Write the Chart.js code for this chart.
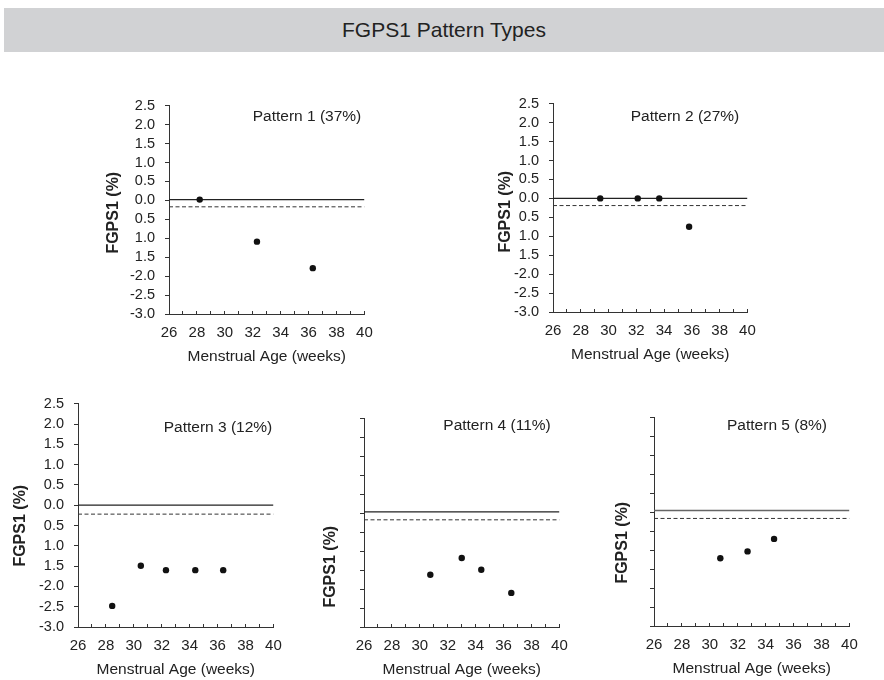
<!DOCTYPE html>
<html>
<head>
<meta charset="utf-8">
<script src="https://cdn.jsdelivr.net/npm/chart.js@4.4.1/dist/chart.umd.min.js"></script>
<style>
  body { margin: 0; background: #fff; width: 884px; height: 680px; position: relative; overflow: hidden; }
  .title-bar { position: absolute; left: 4px; top: 8px; width: 880px; height: 44px; background: #d1d2d4;
    font: 21px "Liberation Sans", Arial, sans-serif; color: #222; text-align: center; line-height: 44px; }
  canvas { position: absolute; }
</style>
</head>
<body>
<div class="title-bar">FGPS1 Pattern Types</div>
<canvas id="p1"></canvas>
<canvas id="p2"></canvas>
<canvas id="p3"></canvas>
<canvas id="p4"></canvas>
<canvas id="p5"></canvas>
<script>
// values
const patternLabels = ['Pattern 1 (37%)', 'Pattern 2 (27%)', 'Pattern 3 (12%)', 'Pattern 4 (11%)', 'Pattern 5 (8%)'];
const weeks1 = [28.2, 32.3, 36.3];
const fgps1 = [0.02, -1.09, -1.79];
const weeks2 = [29.4, 32.1, 33.65, 35.8];
const fgps2 = [0, 0, 0, -0.75];
const weeks3 = [28.45, 30.5, 32.3, 34.4, 36.4];
const fgps3 = [-2.48, -1.49, -1.6, -1.6, -1.6];
const weeks4 = [30.75, 33.0, 34.4, 36.55];
const fgps4 = [-1.62, -1.18, -1.49, -2.1];
const weeks5 = [30.75, 32.7, 34.6];
const fgps5 = [-1.21, -1.03, -0.7];
const solidRef = [0.02, 0, 0, 0.04, 0.05];
const dashedRef = [-0.17, -0.19, -0.22, -0.17, -0.16];
const xTickLabels = ['26', '28', '30', '32', '34', '36', '38', '40'];
// the original figure prints the negative labels without a minus sign down to 1.5
const yTickValues = [2.5, 2, 1.5, 1, 0.5, 0, -0.5, -1, -1.5, -2, -2.5, -3];
const yTickLabels = ['2.5', '2.0', '1.5', '1.0', '0.5', '0.0', '0.5', '1.0', '1.5', '-2.0', '-2.5', '-3.0'];

const allWeeks = [weeks1, weeks2, weeks3, weeks4, weeks5];
const allFgps = [fgps1, fgps2, fgps3, fgps4, fgps5];

// layout: plot area on the page, and text offsets relative to it
const panels = [
  { id: 'p1', left: 169, top: 99, right: 370, bottom: 314, yLabels: true, lab: [138, 11], yt: [-55, 107] },
  { id: 'p2', left: 553, top: 97, right: 753, bottom: 312, yLabels: true, lab: [132, 13], yt: [-47, 108] },
  { id: 'p3', left: 78, top: 397, right: 279, bottom: 627, yLabels: true, lab: [140, 24], yt: [-57, 122] },
  { id: 'p4', left: 364, top: 412, right: 565, bottom: 627, yLabels: false, lab: [133, 7], yt: [-33, 148] },
  { id: 'p5', left: 654, top: 411, right: 855, bottom: 626, yLabels: false, lab: [123, 8], yt: [-31, 125] }
];
const L = 78, T = 12, R = 16, B = 60;
const ink = '#222';
const family = '"Liberation Sans", Arial, sans-serif';

Chart.defaults.font.family = family;
Chart.defaults.color = ink;

const panelText = {
  id: 'panelText',
  afterDraw(chart, args, opts) {
    const { ctx, chartArea } = chart;
    ctx.save();
    ctx.fillStyle = ink;
    ctx.textAlign = 'center';
    ctx.textBaseline = 'middle';
    ctx.font = '15.5px ' + family;
    ctx.fillText(opts.label, chartArea.left + opts.lab[0], chartArea.top + opts.lab[1]);
    ctx.translate(chartArea.left + opts.yt[0], chartArea.top + opts.yt[1]);
    ctx.rotate(-Math.PI / 2);
    ctx.font = 'bold 16px ' + family;
    ctx.fillText('FGPS1 (%)', 0, 0);
    ctx.restore();
  }
};

panels.forEach((p, i) => {
  const cv = document.getElementById(p.id);
  const w = L + (p.right - p.left) + R;
  const h = T + (p.bottom - p.top) + B;
  cv.width = w; cv.height = h;
  cv.style.left = (p.left - L) + 'px';
  cv.style.top = (p.top - T) + 'px';

  const points = allWeeks[i].map((x, k) => ({ x: x, y: allFgps[i][k] }));

  new Chart(cv, {
    type: 'scatter',
    data: {
      datasets: [
        { data: points, pointRadius: 3.2, pointBackgroundColor: '#111', pointBorderWidth: 0, showLine: false },
        { data: [{ x: 26, y: solidRef[i] }, { x: 40, y: solidRef[i] }], showLine: true, pointRadius: 0,
          borderColor: i === 4 ? '#666' : '#222', borderWidth: i === 4 ? 1.6 : 1.2 },
        { data: [{ x: 26, y: dashedRef[i] }, { x: 40, y: dashedRef[i] }], showLine: true, pointRadius: 0,
          borderColor: '#333', borderWidth: 1, borderDash: [4, 2.5] }
      ]
    },
    plugins: [panelText],
    options: {
      responsive: false,
      animation: false,
      devicePixelRatio: 1,
      layout: { padding: { left: 0, top: T, right: R, bottom: 0 } },
      plugins: {
        legend: { display: false },
        tooltip: { enabled: false },
        panelText: { label: patternLabels[i], lab: p.lab, yt: p.yt }
      },
      scales: {
        x: {
          type: 'linear', min: 26, max: 40,
          afterFit: s => { s.height = B; },
          afterBuildTicks: s => { s.ticks = []; for (let v = 26; v <= 40; v++) s.ticks.push({ value: v }); },
          border: { display: true, color: '#333', width: 1 },
          grid: { drawOnChartArea: false, drawTicks: true, tickLength: -3, tickColor: '#333' },
          ticks: {
            autoSkip: false, maxRotation: 0, padding: 13.2,
            font: { size: 15 }, color: ink,
            callback: v => xTickLabels[xTickLabels.indexOf(String(v))] || ''
          },
          title: {
            display: true, text: 'Menstrual Age (weeks)', color: ink,
            font: { size: 15.5 }, padding: { top: 0, bottom: 7.7 }
          }
        },
        y: {
          type: 'linear', min: -3, max: 2.5,
          afterFit: s => { s.width = L; },
          afterBuildTicks: s => { s.ticks = yTickValues.map(v => ({ value: v })); },
          border: { display: true, color: '#333', width: 1 },
          grid: { drawOnChartArea: false, drawTicks: true, tickLength: 4, tickColor: '#333' },
          ticks: {
            autoSkip: false, padding: 10, font: { size: 14.5 }, color: ink,
            callback: v => p.yLabels ? yTickLabels[yTickValues.indexOf(v)] : ''
          }
        }
      }
    }
  });
});
</script>
</body>
</html>
